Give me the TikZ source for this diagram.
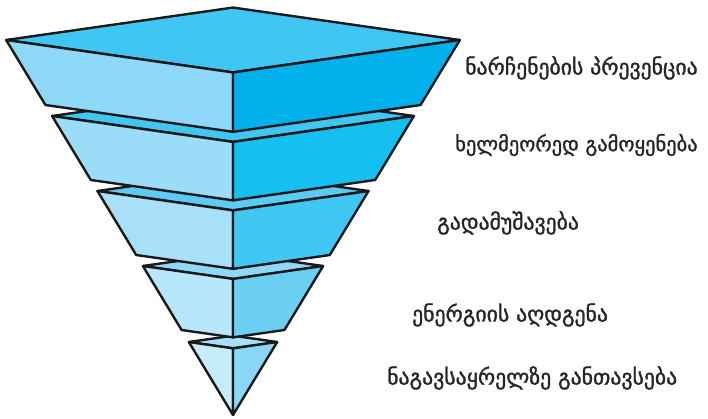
\documentclass[tikz,border=0pt]{standalone}
\usepackage{fontspec}
\newfontfamily\geofont[FakeBold=1.4]{DejaVu Sans}
\usepackage{tikz}
\definecolor{topA}{HTML}{40C6F3}\definecolor{leftA}{HTML}{8DD8F8}\definecolor{rightA}{HTML}{00B1EB}
\definecolor{topB}{HTML}{40C6F3}\definecolor{leftB}{HTML}{9BDCF8}\definecolor{rightB}{HTML}{15BFF0}
\definecolor{topC}{HTML}{5CCBF4}\definecolor{leftC}{HTML}{A8E0F9}\definecolor{rightC}{HTML}{40C7F3}
\definecolor{topD}{HTML}{8ED8F8}\definecolor{leftD}{HTML}{B8E6FA}\definecolor{rightD}{HTML}{6BCFF4}
\definecolor{topE}{HTML}{A6DFF9}\definecolor{leftE}{HTML}{C6EBFB}\definecolor{rightE}{HTML}{8AD6F6}
\begin{document}
\begin{tikzpicture}[x=1pt, y=-1pt, face/.style={draw=black!90, line width=2.4pt, line join=round}, lbl/.style={anchor=west, inner sep=0pt, font=\geofont\fontsize{21.7}{26}\selectfont, text=black!85}]
	\useasboundingbox (0,0) rectangle (708,418);
	% layers, drawn from the tip upwards
	\foreach \i/\t/\b/\ct/\cl/\cr in {5/342/415/topE/leftE/rightE, 4/266/330/topD/leftD/rightD, 3/191/255/topC/leftC/rightC, 2/116/180/topB/leftB/rightB, 1/40/105/topA/leftA/rightA} {
		\pgfmathsetmacro\wt{0.605*(415-\t)} \pgfmathsetmacro\dt{0.143*\wt}
		\pgfmathsetmacro\wb{0.605*(415-\b)} \pgfmathsetmacro\db{0.143*\wb}
		\coordinate (L\i) at ({233-\wt},\t); \coordinate (R\i) at ({233+\wt},\t);
		\coordinate (K\i) at (233,{\t-\dt}); \coordinate (F\i) at (233,{\t+\dt});
		\coordinate (BL\i) at ({233-\wb},\b); \coordinate (BR\i) at ({233+\wb},\b);
		\coordinate (BF\i) at (233,{\b+\db});
		\draw[face, fill=\ct] (L\i) -- (K\i) -- (R\i) -- (F\i) -- cycle;
		\draw[face, fill=\cl] (L\i) -- (F\i) -- (BF\i) -- (BL\i) -- cycle;
		\draw[face, fill=\cr] (R\i) -- (F\i) -- (BF\i) -- (BR\i) -- cycle;
	}
	% labels
	\node[lbl] (prev) at (465,68) {ნარჩენების პრევენცია};
	\node[lbl, font=\geofont\fontsize{20.5}{24}\selectfont] (reuse) at (455,145) {ხელმეორედ გამოყენება};
	\node[lbl] (recyc) at (437,223) {გადამუშავება};
	\node[lbl] (energ) at (412,315) {ენერგიის აღდგენა};
	\node[lbl] (land) at (387,378) {ნაგავსაყრელზე განთავსება};
\end{tikzpicture}
\end{document}
